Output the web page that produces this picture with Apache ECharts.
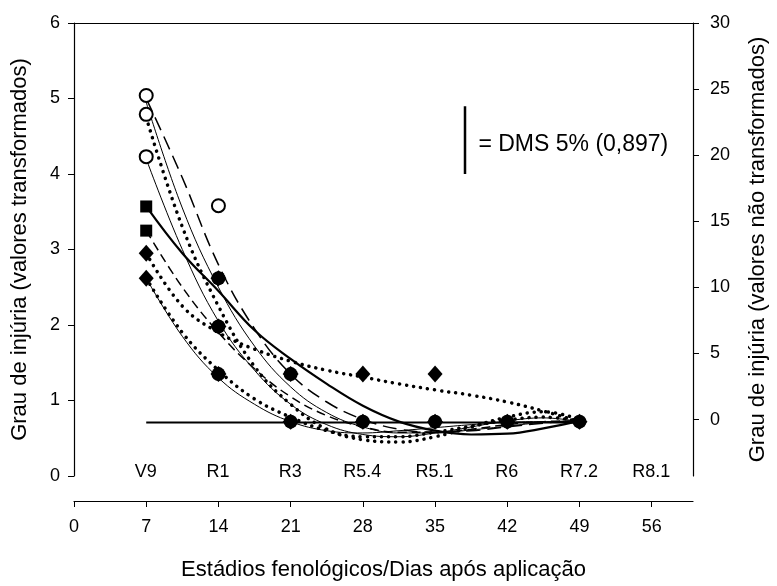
<!DOCTYPE html>
<html><head><meta charset="utf-8">
<script src="https://cdn.jsdelivr.net/npm/echarts@6/dist/echarts.min.js"></script>
<style>html,body{margin:0;padding:0;background:#fff}#c{width:777px;height:586px}</style>
</head><body><div id="c"></div>
<script>
// ---- data ----
const days = [7, 10.5, 14, 17.5, 21, 24.5, 28, 31.5, 35, 38.5, 42, 45.5, 49];
const stageDays = [7, 14, 21, 28, 35, 42, 49, 56];
const stageLabels = ['V9', 'R1', 'R3', 'R5.4', 'R5.1', 'R6', 'R7.2', 'R8.1'];
const xTicks = [0, 7, 14, 21, 28, 35, 42, 49, 56];
const rightTicks = [0, 5, 10, 15, 20, 25, 30];

const curveLongDash   = [5.00, 3.95, 2.80, 1.95, 1.35, 0.98, 0.75, 0.62, 0.58, 0.60, 0.65, 0.70, 0.74];
const curveThinTop    = [4.95, 3.55, 2.50, 1.72, 1.18, 0.84, 0.65, 0.57, 0.57, 0.61, 0.66, 0.71, 0.73];
const curveDotTop     = [4.75, 3.30, 2.25, 1.45, 0.95, 0.62, 0.48, 0.45, 0.52, 0.65, 0.78, 0.85, 0.75];
const curveThinMid    = [4.20, 3.00, 2.05, 1.40, 0.95, 0.68, 0.55, 0.52, 0.57, 0.65, 0.73, 0.77, 0.72];
const curveThick      = [3.57, 2.95, 2.45, 1.93, 1.55, 1.22, 0.93, 0.72, 0.60, 0.55, 0.56, 0.63, 0.73];
const curveMedDash    = [3.25, 2.50, 1.90, 1.42, 1.05, 0.80, 0.65, 0.58, 0.58, 0.62, 0.68, 0.72, 0.73];
const curveDotFlat    = [2.95, 2.25, 1.90, 1.68, 1.52, 1.40, 1.31, 1.22, 1.14, 1.07, 0.98, 0.86, 0.72];
const curveDotLow     = [2.62, 1.90, 1.40, 1.02, 0.78, 0.60, 0.52, 0.52, 0.58, 0.66, 0.74, 0.78, 0.72];
const curveThinLow    = [2.62, 1.85, 1.30, 0.95, 0.72, 0.60, 0.57, 0.60, 0.64, 0.68, 0.71, 0.72, 0.72];
const controlDays = [7, 49];
const controlValues = [0.707, 0.707];

const openCircles   = [[7, 5.04], [7, 4.79], [7, 4.23], [14, 3.58]];
const filledSquares = [[7, 3.57], [7, 3.25]];
const filledDiamonds = [[7, 2.95], [7, 2.62], [28, 1.35], [35, 1.35]];
const filledCircles = [[14, 2.62], [14, 1.98], [14, 1.35], [21, 1.35], [21, 0.72], [28, 0.72], [35, 0.72], [42, 0.72], [49, 0.72]];

const dmsValue = 0.897;
const dmsDay = 37.9;
const dmsBase = 4.0;
const dmsTextLevel = 4.38;
const stageLevel = 0.05;

// ---- chart ----
const FONT = 'Liberation Sans, Arial, sans-serif';
const pair = (xs, ys) => xs.map((x, i) => [x, ys[i]]);
function curve(vals, style) {
  return {
    type: 'line', xAxisIndex: 0, yAxisIndex: 0, smooth: 0.4, showSymbol: false, silent: true,
    data: pair(days, vals),
    lineStyle: Object.assign({ color: '#000', width: 1.2 }, style), z: 2
  };
}
const AXLINE = { show: true, onZero: false, lineStyle: { color: '#000', width: 1.2 } };
const chart = echarts.init(document.getElementById('c'), null, { renderer: 'canvas' });
const option = {
  backgroundColor: '#fff',
  animation: false,
  textStyle: { fontFamily: FONT, color: '#000' },
  grid: { left: 74, right: 75, top: 23, bottom: 107, containLabel: false },
  xAxis: [{
    type: 'value', min: 0, max: 60, position: 'bottom', offset: 25,
    name: 'Estádios fenológicos/Dias após aplicação', nameLocation: 'middle', nameGap: 58,
    nameTextStyle: { fontSize: 22, color: '#000', fontFamily: FONT },
    axisLine: AXLINE,
    axisTick: { show: true, inside: false, length: 6, customValues: xTicks, lineStyle: { color: '#000' } },
    axisLabel: { customValues: xTicks, fontSize: 18, color: '#000', margin: 17, fontFamily: FONT },
    splitLine: { show: false }
  }, {
    type: 'value', min: 0, max: 60, position: 'top',
    axisLine: AXLINE,
    axisTick: { show: false }, axisLabel: { show: false }, splitLine: { show: false }
  }],
  yAxis: [{
    type: 'value', min: 0, max: 6, interval: 1, position: 'left',
    name: 'Grau de injúria (valores transformados)', nameLocation: 'middle', nameGap: 43, nameRotate: 90,
    nameTextStyle: { fontSize: 22, color: '#000', fontFamily: FONT },
    axisLine: AXLINE,
    axisTick: { show: true, inside: false, length: 6, lineStyle: { color: '#000' } },
    axisLabel: { fontSize: 18, color: '#000', margin: 14, fontFamily: FONT },
    splitLine: { show: false }
  }, {
    type: 'value', min: -4.27, max: 30, position: 'right',
    name: 'Grau de injúria (valores não transformados)', nameLocation: 'middle', nameGap: 54, nameRotate: 90,
    nameTextStyle: { fontSize: 22, color: '#000', fontFamily: FONT },
    axisLine: AXLINE,
    axisTick: { show: true, inside: false, length: 6, customValues: rightTicks, lineStyle: { color: '#000' } },
    axisLabel: { customValues: rightTicks, fontSize: 18, color: '#000', margin: 17, fontFamily: FONT },
    splitLine: { show: false }
  }],
  series: [
    curve(curveLongDash, { width: 1.5, type: [14, 7] }),
    curve(curveThinTop, { width: 1 }),
    curve(curveDotTop, { width: 3.5, type: [0.1, 7], cap: 'round' }),
    curve(curveThinMid, { width: 1 }),
    curve(curveThick, { width: 2.2 }),
    curve(curveMedDash, { width: 1.5, type: [9, 5] }),
    curve(curveDotFlat, { width: 3.5, type: [0.1, 7], cap: 'round' }),
    curve(curveDotLow, { width: 3.5, type: [0.1, 7], cap: 'round' }),
    curve(curveThinLow, { width: 1 }),
    {
      type: 'line', showSymbol: false, silent: true, data: pair(controlDays, controlValues),
      lineStyle: { color: '#000', width: 2 }, z: 2
    },
    {
      type: 'line', showSymbol: false, silent: true,
      data: [[dmsDay, dmsBase], [dmsDay, dmsBase + dmsValue]],
      lineStyle: { color: '#000', width: 2.5 }, z: 3
    },
    {
      type: 'scatter', silent: true, symbolSize: 1, itemStyle: { color: 'rgba(255,255,255,0)', opacity: 1 },
      data: [[dmsDay + 1.35, dmsTextLevel]],
      label: { show: true, position: [0, 0], align: 'left', verticalAlign: 'middle', formatter: '= DMS 5% (0,897)', fontSize: 23, color: '#000', fontFamily: FONT, textBorderWidth: 0 }
    },
    {
      type: 'scatter', silent: true, symbolSize: 1, itemStyle: { color: 'rgba(255,255,255,0)', opacity: 1 },
      data: stageDays.map(d => [d, stageLevel]),
      label: { show: true, position: [0, 0], align: 'center', verticalAlign: 'middle', formatter: p => stageLabels[p.dataIndex], fontSize: 18, color: '#000', fontFamily: FONT, textBorderWidth: 0 }
    },
    {
      type: 'scatter', silent: true, symbol: 'circle', symbolSize: 13, data: openCircles, z: 5,
      itemStyle: { color: '#fff', borderColor: '#000', borderWidth: 2, opacity: 1 }
    },
    {
      type: 'scatter', silent: true, symbol: 'rect', symbolSize: 12, data: filledSquares, z: 5,
      itemStyle: { color: '#000', opacity: 1 }
    },
    {
      type: 'scatter', silent: true, symbol: 'diamond', symbolSize: [15, 17], data: filledDiamonds, z: 5,
      itemStyle: { color: '#000', opacity: 1 }
    },
    {
      type: 'scatter', silent: true, symbol: 'circle', symbolSize: 14, data: filledCircles, z: 5,
      itemStyle: { color: '#000', opacity: 1 }
    },
    {
      type: 'scatter', silent: true, symbol: 'diamond', symbolSize: 16, data: filledCircles, z: 5,
      itemStyle: { color: '#000', opacity: 1 }
    }
  ]
};
chart.setOption(option);
</script>
</body></html>
